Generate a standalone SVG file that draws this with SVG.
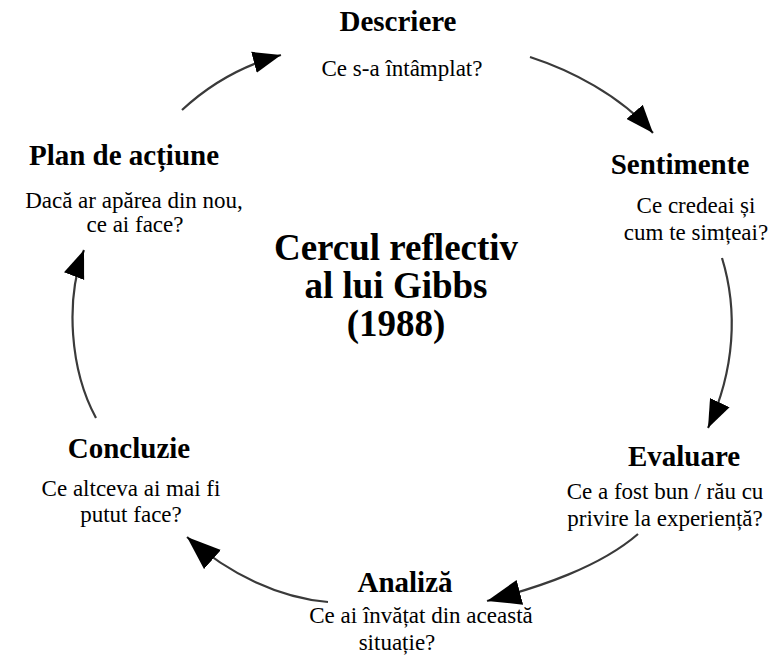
<svg xmlns="http://www.w3.org/2000/svg" width="773" height="671" viewBox="0 0 773 671">
<defs>
<style>
.h{font-weight:bold;font-size:29px}
.b{font-size:23px}
.t{font-weight:bold;font-size:37px}
.c{fill:none;stroke:#3a3a3a;stroke-width:2.2;marker-end:url(#ah)}
.c2{fill:none;stroke:#3a3a3a;stroke-width:2.2;marker-end:url(#ah2)}
</style>
<marker id="ah" markerUnits="userSpaceOnUse" markerWidth="28" markerHeight="22" refX="26" refY="10" orient="auto" viewBox="0 0 26 20">
<path d="M0,0 L26,10 L0,20 Z" fill="#000"/>
</marker>
<marker id="ah2" markerUnits="userSpaceOnUse" markerWidth="34" markerHeight="26" refX="32" refY="12" orient="auto" viewBox="0 0 32 24">
<path d="M0,0 L32,12 L0,24 Z" fill="#000"/>
</marker>
</defs>
<rect width="773" height="671" fill="#fff"/>
<g id="connectors">
<path class="c" d="M182 110 Q225 70 281 55"/>
<path class="c" d="M530 57 C570 70 620 95 653 133"/>
<path class="c" d="M722 258 C738 310 735 370 708 428"/>
<path class="c2" d="M638 534 C600 567 540 587 487 601"/>
<path class="c2" d="M328 602 C280 598 230 575 187 537"/>
<path class="c" d="M96 418 C70 370 65 300 84 250"/>
</g>
<g font-family="Liberation Serif, Times New Roman, DejaVu Serif, serif" text-anchor="middle" fill="#000">
<g id="title">
<text class="t" x="396" y="260">Cercul reflectiv</text>
<text class="t" x="396" y="298">al lui Gibbs</text>
<text class="t" x="396" y="336">(1988)</text>
</g>
<g id="descriere">
<text class="h" x="398" y="31">Descriere</text>
<text class="b" x="402" y="76">Ce s-a întâmplat?</text>
</g>
<g id="sentimente">
<text class="h" x="680" y="174" font-size="26">Sentimente</text>
<text class="b" x="696" y="213">Ce credeai și</text>
<text class="b" x="696" y="240">cum te simțeai?</text>
</g>
<g id="evaluare">
<text class="h" x="684" y="466">Evaluare</text>
<text class="b" x="665" y="499">Ce a fost bun / rău cu</text>
<text class="b" x="665" y="526">privire la experiență?</text>
</g>
<g id="analiza">
<text class="h" x="405" y="592">Analiză</text>
<text class="b" x="421" y="623">Ce ai învățat din această</text>
<text class="b" x="397" y="650">situație?</text>
</g>
<g id="concluzie">
<text class="h" x="129" y="458">Concluzie</text>
<text class="b" x="131" y="496">Ce altceva ai mai fi</text>
<text class="b" x="131" y="522">putut face?</text>
</g>
<g id="plan">
<text class="h" x="124" y="165">Plan de acțiune</text>
<text class="b" x="134" y="208">Dacă ar apărea din nou,</text>
<text class="b" x="135" y="232">ce ai face?</text>
</g>
</g>
</svg>
